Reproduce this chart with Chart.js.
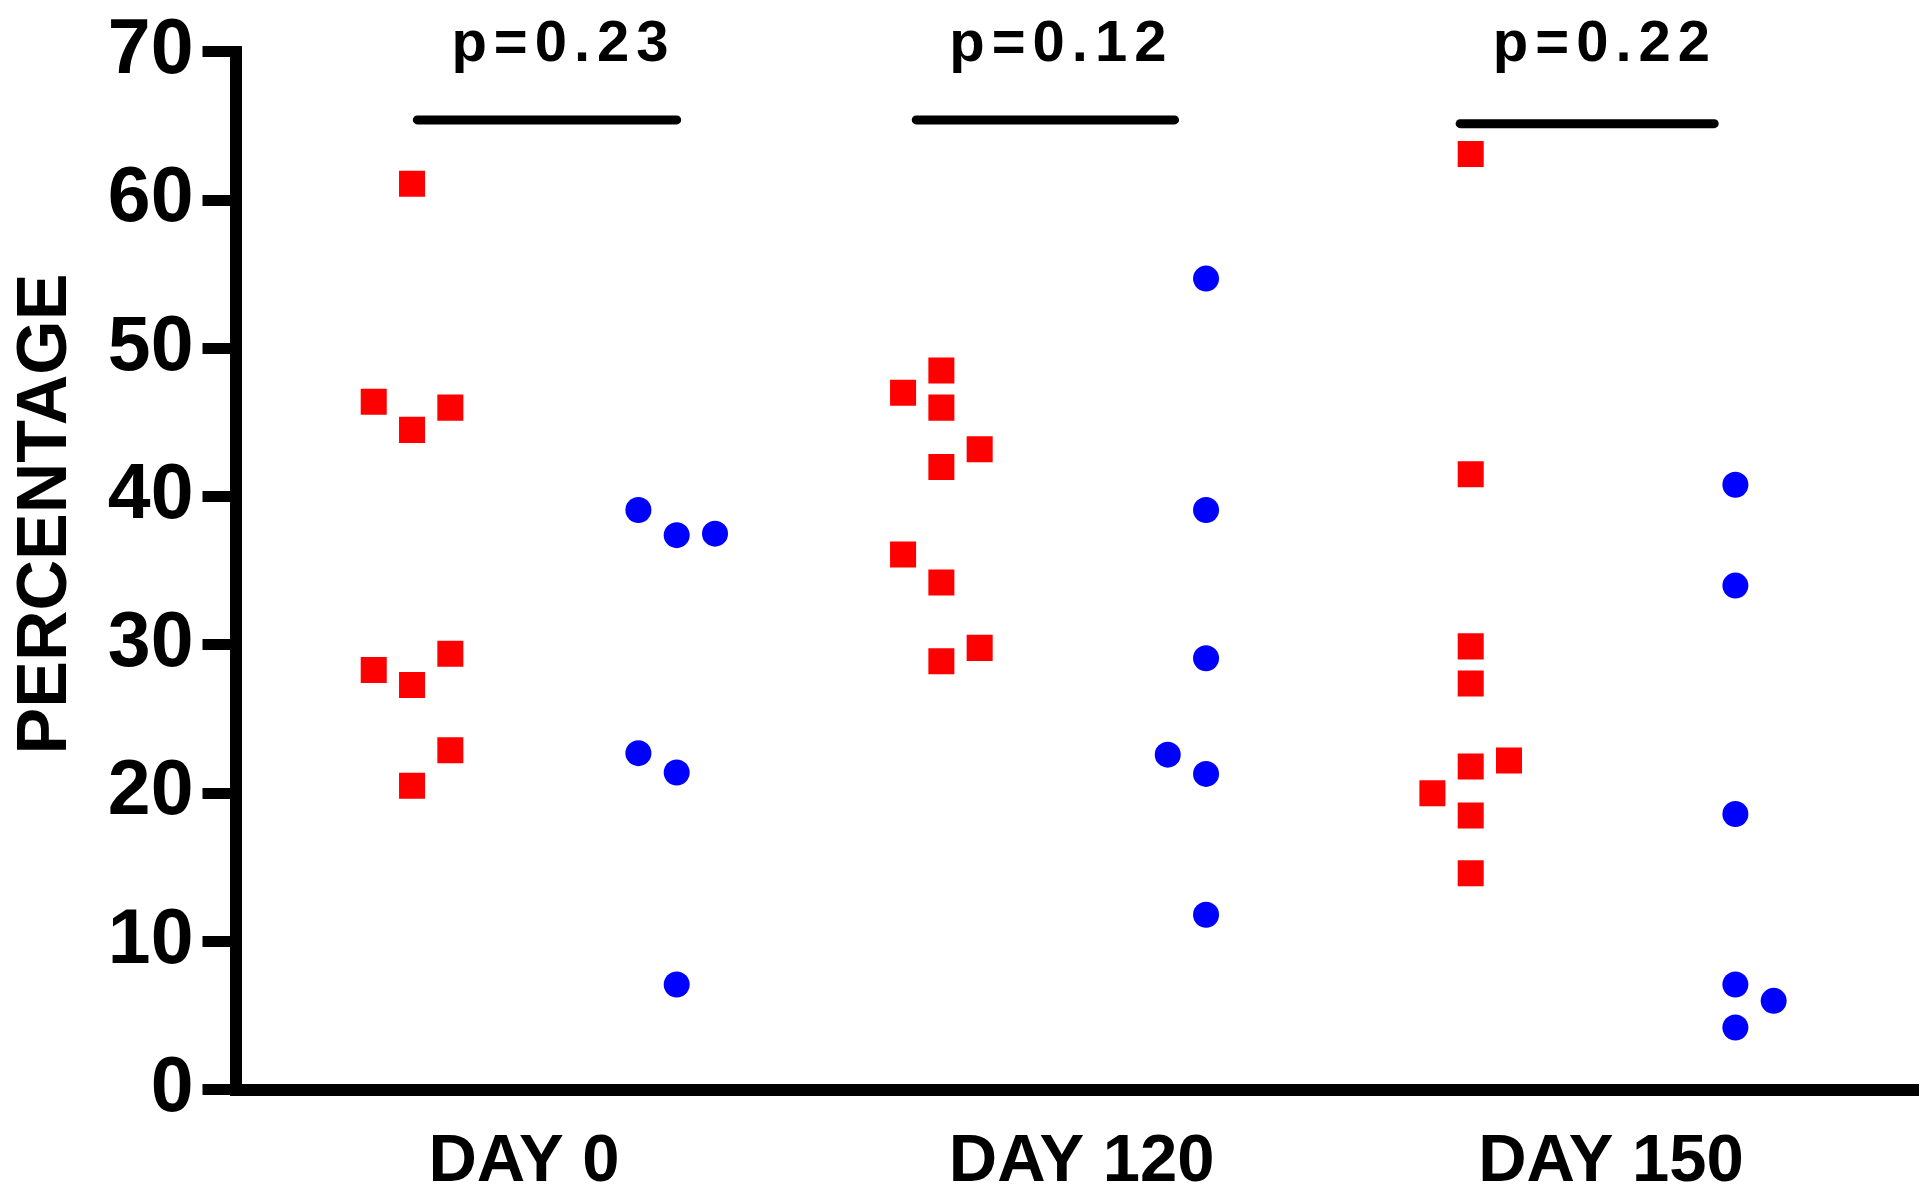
<!DOCTYPE html>
<html>
<head>
<meta charset="utf-8">
<script src="https://cdn.jsdelivr.net/npm/chart.js@4.4.0/dist/chart.umd.min.js"></script>
<style>
  html, body { margin: 0; padding: 0; background: #fff; overflow: hidden; }
  #wrap { width: 1923px; height: 1196px; position: relative; }
</style>
</head>
<body>
<div id="wrap"><canvas id="dotChart"></canvas></div>
<script>
const categories = ['DAY 0', 'DAY 120', 'DAY 150'];
const pLabels = ['p=0.23', 'p=0.12', 'p=0.22'];
const yTicks = [0, 10, 20, 30, 40, 50, 60, 70];

// red squares, one array per day (slot = side-by-side column when values collide)
const redDay0 = [61.1, 46.4, 44.5, 46.0, 28.3, 27.3, 29.4, 22.9, 20.5];
const redDay0Slot = [0, -1, 0, 1, -1, 0, 1, 1, 0];
const redDay120 = [48.5, 47.0, 46.0, 43.2, 42.0, 36.1, 34.2, 29.8, 28.9];
const redDay120Slot = [0, -1, 0, 1, 0, -1, 0, 1, 0];
const redDay150 = [63.1, 41.5, 29.9, 27.4, 22.2, 21.8, 20.0, 18.5, 14.6];
const redDay150Slot = [0, 0, 0, 0, 1, 0, -1, 0, 0];

// blue circles
const blueDay0 = [39.1, 37.4, 37.5, 22.7, 21.4, 7.1];
const blueDay0Slot = [-1, 0, 1, -1, 0, 0];
const blueDay120 = [54.7, 39.1, 29.1, 22.6, 21.3, 11.8];
const blueDay120Slot = [0, 0, 0, -1, 0, 0];
const blueDay150 = [40.8, 34.0, 18.6, 7.1, 6.0, 4.2];
const blueDay150Slot = [0, 0, 0, 0, 1, 0];

const FONT = '"Liberation Sans", Arial, sans-serif';
const JITTER = 0.1447;

// layout of the group labels and p-value bars (in x-axis units, column 0..5)
const labelPos = [0.423, 2.53, 4.53];
const pBarSpan = [[0.02, 1.0], [1.905, 2.881], [3.96, 4.92]];
const pBarLevel = [65.4, 65.4, 65.15];
const pTextPos = [0.559, 2.44, 4.494];

function toPoints(values, slots, column) {
    return values.map((v, i) => ({ x: column + slots[i] * JITTER, y: v }));
}

const redSets = [[redDay0, redDay0Slot], [redDay120, redDay120Slot], [redDay150, redDay150Slot]];
const blueSets = [[blueDay0, blueDay0Slot], [blueDay120, blueDay120Slot], [blueDay150, blueDay150Slot]];

const datasets = [];
redSets.forEach((s, g) => {
    datasets.push({
        data: toPoints(s[0], s[1], g * 2),
        pointStyle: 'rect',
        pointRadius: 18.4,
        backgroundColor: '#ff0000',
        borderWidth: 0
    });
});
blueSets.forEach((s, g) => {
    datasets.push({
        data: toPoints(s[0], s[1], g * 2 + 1),
        pointStyle: 'circle',
        pointRadius: 13,
        backgroundColor: '#0000ff',
        borderWidth: 0
    });
});

const annotations = {
    id: 'annotations',
    afterDraw(chart) {
        const { ctx, scales: { x, y } } = chart;
        ctx.save();
        ctx.strokeStyle = '#000';
        ctx.fillStyle = '#000';
        ctx.lineWidth = 9;
        ctx.lineCap = 'round';
        pBarSpan.forEach((span, i) => {
            const py = y.getPixelForValue(pBarLevel[i]);
            ctx.beginPath();
            ctx.moveTo(x.getPixelForValue(span[0]), py);
            ctx.lineTo(x.getPixelForValue(span[1]), py);
            ctx.stroke();
        });
        ctx.font = 'bold 58px ' + FONT;
        ctx.letterSpacing = '7px';
        ctx.textAlign = 'center';
        ctx.textBaseline = 'alphabetic';
        pLabels.forEach((t, i) => {
            ctx.fillText(t, x.getPixelForValue(pTextPos[i]) + 3.5, y.getPixelForValue(69.35));
        });
        // y axis title
        ctx.letterSpacing = '0px';
        ctx.translate(47, 514);
        ctx.rotate(-Math.PI / 2);
        ctx.font = 'bold 70px ' + FONT;
        ctx.textBaseline = 'middle';
        ctx.fillText('PERCENTAGE', 0, 0);
        ctx.restore();
    }
};

new Chart(document.getElementById('dotChart'), {
    type: 'scatter',
    data: { datasets: datasets },
    plugins: [annotations],
    options: {
        responsive: true,
        maintainAspectRatio: false,
        animation: false,
        layout: {
            autoPadding: false,
            padding: { left: 0, top: 51.7, right: 5, bottom: 0 }
        },
        plugins: {
            legend: { display: false },
            tooltip: { enabled: false }
        },
        scales: {
            x: {
                type: 'linear',
                min: -0.667,
                max: 5.69,
                afterBuildTicks: function(scale) {
                    scale.ticks = labelPos.map(v => ({ value: v }));
                },
                afterFit: function(scale) {
                    scale.height = 106.2;
                    scale.paddingLeft = 0;
                    scale.paddingRight = 0;
                },
                grid: { display: false, drawTicks: false },
                border: { display: true, color: '#000', width: 12 },
                ticks: {
                    autoSkip: false,
                    maxRotation: 0,
                    padding: 33,
                    color: '#000',
                    font: { family: FONT, size: 67, weight: 'bold' },
                    callback: function(value, index) {
                        return categories[index];
                    }
                }
            },
            y: {
                min: 0,
                max: 70,
                afterBuildTicks: function(scale) {
                    scale.ticks = yTicks.map(v => ({ value: v }));
                },
                afterFit: function(scale) {
                    scale.width = 235.5;
                    scale.paddingTop = 0;
                    scale.paddingBottom = 0;
                },
                grid: {
                    drawOnChartArea: false,
                    drawTicks: true,
                    tickLength: 33,
                    lineWidth: 11,
                    color: '#000'
                },
                border: { display: true, color: '#000', width: 12 },
                ticks: {
                    padding: 9,
                    color: '#000',
                    font: { family: FONT, size: 77, weight: 'bold' }
                }
            }
        }
    }
});
</script>
</body>
</html>
